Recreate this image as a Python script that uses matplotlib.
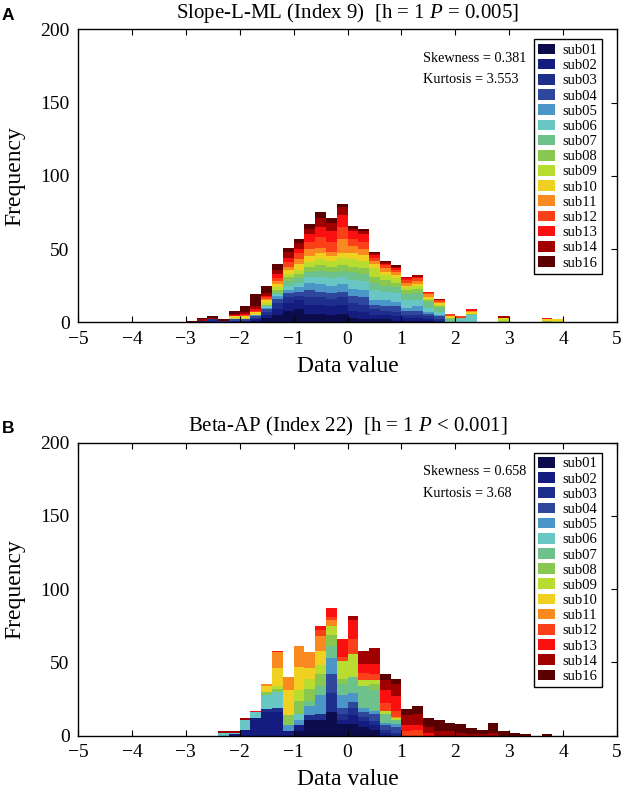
import numpy as np
import matplotlib
matplotlib.use('Agg')
import matplotlib.pyplot as plt
from matplotlib.patches import Patch

plt.rcParams['font.family'] = ['Liberation Serif', 'DejaVu Serif']
plt.rcParams['mathtext.fontset'] = 'custom'
plt.rcParams['mathtext.rm'] = 'Liberation Serif'
plt.rcParams['mathtext.it'] = 'Liberation Serif:italic'

# ---- data (counts per 0.2-wide bin, one list per subject) ----
subjects = ['sub01', 'sub02', 'sub03', 'sub04', 'sub05', 'sub06', 'sub07', 'sub08',
            'sub09', 'sub10', 'sub11', 'sub12', 'sub13', 'sub14', 'sub16']
colors = ['#0c0c4c', '#141c80', '#1e2e8c', '#2e469c', '#4a96c8', '#68c6c4', '#6cc28a',
          '#88c850', '#b8dc30', '#f0d020', '#fa8a20', '#fa4018', '#fa1010', '#a00000', '#5a0000']

# panel A: bins -3.0 .. 4.0
a_left = np.round(np.arange(-3.0, 3.99, 0.2), 1)
a_sub01 = [0,0,0,0,0,0,1,3,5,8,9,6,6,5,6,3,2,2,2,1,1,1,1,0,0,0,0,0,0,0,0,0,0,0,0]
a_sub02 = [0,1,1,0,1,1,1,2,4,5,6,6,6,6,6,5,5,3,3,3,2,2,1,1,0,0,0,0,0,0,0,0,0,0,0]
a_sub03 = [0,0,1,1,0,0,1,2,4,4,3,5,5,5,5,5,5,4,3,3,2,2,2,1,0,0,0,0,0,0,0,0,0,0,0]
a_sub04 = [0,0,0,0,1,1,1,2,3,3,3,5,4,4,4,5,5,3,3,4,3,3,2,2,0,0,0,0,0,0,0,0,0,0,0]
a_sub05 = [0,0,0,0,0,0,1,1,2,2,3,5,5,5,5,5,5,3,4,3,2,3,1,1,0,0,0,0,0,0,0,0,0,0,0]
a_sub06 = [0,0,0,0,0,0,0,1,1,3,3,4,5,5,5,6,6,7,6,6,5,4,3,2,0,2,5,0,0,0,0,0,0,0,0]
a_sub07 = [0,0,0,0,0,0,0,0,1,3,3,3,4,4,4,5,5,5,4,4,4,5,4,3,2,1,0,0,0,0,0,0,0,0,0]
a_sub08 = [0,0,0,0,0,0,0,1,2,3,3,4,4,4,4,4,4,4,4,3,3,3,1,1,1,0,1,0,0,1,0,0,0,1,0]
a_sub09 = [0,0,0,0,1,1,0,1,2,2,3,3,4,4,5,5,5,6,3,3,2,2,1,1,0,0,0,0,0,1,0,0,0,0,1]
a_sub10 = [0,0,0,0,1,1,2,2,2,3,4,4,4,3,3,4,4,3,2,2,1,1,1,1,1,0,1,0,0,1,0,0,0,1,1]
a_sub11 = [0,0,0,0,0,0,0,1,2,2,3,5,4,3,10,5,4,2,3,2,2,2,2,1,0,0,1,0,0,0,0,0,0,0,0]
a_sub12 = [0,0,0,0,0,1,1,1,2,3,4,5,7,7,8,5,5,2,2,2,2,2,1,1,2,1,0,0,0,0,0,0,0,0,0]
a_sub13 = [0,0,0,0,1,1,1,1,3,3,3,5,7,7,8,5,5,2,1,1,1,1,1,0,0,0,1,0,0,0,0,0,0,1,0]
a_sub14 = [0,1,1,0,1,1,2,2,3,4,4,4,6,6,6,2,2,1,1,1,1,1,0,1,0,0,0,0,0,1,0,0,0,0,0]
a_sub16 = [1,1,1,1,2,4,8,5,4,3,3,3,4,3,2,2,2,1,1,1,0,0,0,0,0,0,0,0,0,0,0,0,0,0,0]

# panel B: bins -2.4 .. 4.0
b_left = np.round(np.arange(-2.4, 3.99, 0.2), 1)
b_sub01 = [0,0,0,0,0,0,0,3,11,11,16,8,8,6,4,0,0,0,0,0,0,0,0,0,0,0,0,0,0,0,0,0]
b_sub02 = [0,1,4,12,16,16,3,4,0,0,0,3,6,4,3,2,0,0,0,0,0,0,0,0,0,0,0,0,0,0,0,0]
b_sub03 = [0,0,0,0,2,3,0,0,3,4,13,4,5,3,3,2,2,0,0,0,0,0,0,0,0,0,0,0,0,0,0,0]
b_sub04 = [0,0,0,0,0,0,0,0,0,0,13,4,4,3,5,3,4,0,0,0,0,0,0,0,0,0,0,0,0,0,0,0]
b_sub05 = [0,0,0,0,0,0,4,4,6,13,11,9,6,3,2,2,2,0,0,0,0,0,0,0,0,0,0,0,0,0,0,0]
b_sub06 = [2,1,7,4,10,11,0,4,0,0,0,0,0,0,0,0,0,0,0,0,0,0,0,0,0,0,0,0,0,0,0,0]
b_sub07 = [0,0,0,0,0,0,0,0,4,6,8,7,11,15,14,6,3,0,0,0,0,0,0,0,0,0,0,0,0,0,0,0]
b_sub08 = [0,0,0,0,2,2,7,9,8,8,8,4,0,0,4,0,0,0,0,0,0,0,0,0,0,0,0,0,0,0,0,0]
b_sub09 = [0,0,0,0,0,2,0,7,7,6,6,12,16,4,3,2,1,0,0,0,0,0,0,0,0,0,0,0,0,0,0,0]
b_sub10 = [0,0,0,0,4,12,17,16,7,10,0,0,0,0,0,0,0,0,0,0,0,0,0,0,0,0,0,0,0,0,0,0]
b_sub11 = [0,0,0,0,1,11,9,14,11,10,4,0,0,0,0,0,1,0,0,0,0,0,0,0,0,0,0,0,0,0,0,0]
b_sub12 = [0,0,0,0,0,0,0,0,0,4,2,3,10,5,4,5,4,3,4,0,0,0,0,0,0,0,0,0,0,0,0,0]
b_sub13 = [0,0,0,1,0,1,0,0,0,3,6,12,13,6,7,9,10,4,3,2,0,0,0,0,0,0,0,0,0,0,0,0]
b_sub14 = [1,1,1,0,0,0,0,0,0,0,0,0,3,9,11,7,8,7,8,4,3,3,2,1,1,2,0,0,0,0,0,0]
b_sub16 = [0,0,0,0,0,0,0,0,0,0,0,0,0,0,0,4,4,4,5,6,8,6,6,4,3,7,3,2,1,0,1,0]

a_counts = [a_sub01, a_sub02, a_sub03, a_sub04, a_sub05, a_sub06, a_sub07, a_sub08,
            a_sub09, a_sub10, a_sub11, a_sub12, a_sub13, a_sub14, a_sub16]
b_counts = [b_sub01, b_sub02, b_sub03, b_sub04, b_sub05, b_sub06, b_sub07, b_sub08,
            b_sub09, b_sub10, b_sub11, b_sub12, b_sub13, b_sub14, b_sub16]

W, H = 622, 797
fig = plt.figure(figsize=(W / 100, H / 100), dpi=100)


def panel(top_px, letter, title, left, counts, skew, kurt):
    ax = fig.add_axes([78 / W, (H - top_px - 293) / H, 539 / W, 293 / H])
    bottom = np.zeros(len(left))
    for c, col in zip(counts, colors):
        ax.bar(left, c, width=0.2, bottom=bottom, align='edge', color=col,
               linewidth=0)
        bottom += np.array(c)
    ax.set_xlim(-5, 5)
    ax.set_ylim(0, 200)
    ax.set_xticks(range(-5, 6))
    ax.set_yticks(range(0, 201, 50))
    ax.set_xticklabels([str(v).replace('-', '\u2212') for v in range(-5, 6)])
    ax.tick_params(direction='in', top=True, right=True, left=False, length=4,
                   width=0.8, labelsize=14, pad=6)
    for s in ax.spines.values():
        s.set_linewidth(1.0)
    ax.text(0.64, 0.902, f'Skewness = {skew}', transform=ax.transAxes,
            fontsize=10.3, va='center', ha='left')
    ax.text(0.64, 0.827, f'Kurtosis = {kurt}', transform=ax.transAxes,
            fontsize=10.3, va='center', ha='left')
    handles = [Patch(facecolor=col, edgecolor='none') for col in colors]
    leg = ax.legend(handles, subjects, loc='upper right', bbox_to_anchor=(0.972, 0.966),
                    fancybox=False, edgecolor='black', framealpha=1, fontsize=10.5,
                    handlelength=1.1, handleheight=0.75, handletextpad=0.55,
                    labelspacing=0.12, borderpad=0.3, borderaxespad=0)
    leg.get_frame().set_linewidth(1.0)
    # titles and labels placed in figure pixels
    fig.text(347.5 / W, 1 - (top_px - 16) / H, title, ha='center', va='center', fontsize=15)
    fig.text(8 / W, 1 - (top_px - 14) / H, letter, ha='center', va='center', fontsize=12.5,
             fontweight='bold', family='Liberation Sans')
    fig.text(15 / W, 1 - (top_px + 146.5) / H, 'Frequency', ha='center', va='center',
             rotation=90, fontsize=17)
    fig.text(347.5 / W, 1 - (top_px + 293 + 44) / H, 'Data value', ha='center', va='center',
             fontsize=17)
    return ax


panel(29.3, 'A', 'Slope-L-ML (Index 9)  [h = 1 $P$ = 0.005]', a_left, a_counts, 0.381, 3.553)
panel(442.7, 'B', 'Beta-AP (Index 22)  [h = 1 $P$ < 0.001]', b_left, b_counts, 0.658, 3.68)

fig.savefig('out.png', dpi=100, facecolor='white')
